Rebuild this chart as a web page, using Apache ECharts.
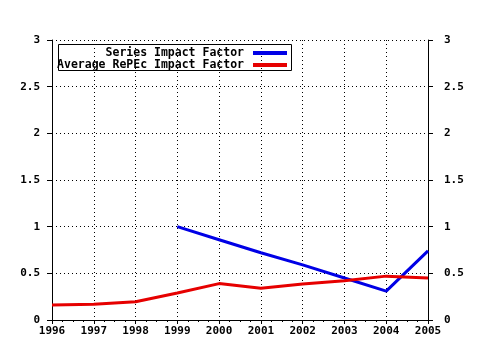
<!DOCTYPE html>
<html>
<head>
<meta charset="utf-8">
<script src="https://cdn.jsdelivr.net/npm/echarts@6/dist/echarts.min.js"></script>
<style>
  html, body { margin: 0; padding: 0; background: #fff; }
  #chart { width: 480px; height: 350px; }
</style>
</head>
<body>
<div id="chart"></div>
<script>
// values
var years = [1996, 1997, 1998, 1999, 2000, 2001, 2002, 2003, 2004, 2005]
var seriesImpact = [null, null, null, 1.0, 0.86, 0.72, 0.59, 0.45, 0.31, 0.74]
var repecImpact = [0.16, 0.17, 0.195, 0.29, 0.39, 0.34, 0.385, 0.42, 0.47, 0.45]
var seriesNames = ['Series Impact Factor', 'Average RePEc Impact Factor']

var font = 'DejaVu Sans Mono'

function pairs(vals) {
  var out = []
  for (var i = 0; i < years.length; i++) {
    if (vals[i] !== null) out.push([years[i], vals[i]])
  }
  return out
}

var chart = echarts.init(document.getElementById('chart'))

var axisText = { color: '#000', fontFamily: font, fontWeight: 'bold', fontSize: 11 }
var legendText = { color: '#000', fontFamily: font, fontWeight: 'bold', fontSize: 11.5, padding: [0, 4, 0, 0] }
var gridLine = { show: true, lineStyle: { color: '#000', type: [1, 3], width: 1 } }
var blackLine = { show: true, lineStyle: { color: '#000', width: 1 } }

function legendFor(name, top) {
  return {
    data: [name],
    right: 193,
    top: top,
    padding: 0,
    align: 'right',
    itemWidth: 34,
    itemHeight: 4,
    icon: 'rect',
    selectedMode: false,
    textStyle: legendText
  }
}

chart.setOption({
  animation: false,
  backgroundColor: '#fff',
  grid: { left: 52, right: 52, top: 40, bottom: 30 },
  xAxis: [
    {
      type: 'value',
      min: 1996,
      max: 2005,
      interval: 1,
      position: 'bottom',
      axisLine: blackLine,
      axisTick: { show: true, length: 4, lineStyle: { color: '#000' } },
      minorTick: { show: true, splitNumber: 4, length: 2, lineStyle: { color: '#000' } },
      splitLine: gridLine,
      axisLabel: Object.assign({ margin: 6, formatter: function (v) { return String(v) } }, axisText)
    },
    {
      type: 'value',
      min: 1996,
      max: 2005,
      interval: 1,
      position: 'top',
      axisLine: blackLine,
      axisTick: { show: true, inside: true, length: 3, lineStyle: { color: '#000' } },
      minorTick: { show: true, splitNumber: 4, length: 2, lineStyle: { color: '#000' } },
      splitLine: { show: false },
      axisLabel: { show: false }
    }
  ],
  yAxis: [
    {
      type: 'value',
      min: 0,
      max: 3,
      interval: 0.5,
      position: 'left',
      axisLine: blackLine,
      axisTick: { show: true, length: 5, lineStyle: { color: '#000' } },
      splitLine: gridLine,
      axisLabel: Object.assign({ margin: 12 }, axisText)
    },
    {
      type: 'value',
      min: 0,
      max: 3,
      interval: 0.5,
      position: 'right',
      axisLine: blackLine,
      axisTick: { show: true, length: 5, lineStyle: { color: '#000' } },
      splitLine: { show: false },
      axisLabel: Object.assign({ margin: 16 }, axisText)
    }
  ],
  legend: [
    legendFor(seriesNames[0], 47),
    legendFor(seriesNames[1], 59)
  ],
  graphic: [
    {
      type: 'rect',
      shape: { x: 58.5, y: 44.5, width: 233, height: 26 },
      style: { fill: 'none', stroke: '#000', lineWidth: 1 },
      z: 10
    }
  ],
  series: [
    {
      name: seriesNames[0],
      type: 'line',
      data: pairs(seriesImpact),
      color: '#0000e6',
      symbol: 'none',
      lineStyle: { width: 3, color: '#0000e6' },
      z: 3
    },
    {
      name: seriesNames[1],
      type: 'line',
      data: pairs(repecImpact),
      color: '#e60000',
      symbol: 'none',
      lineStyle: { width: 3, color: '#e60000' },
      z: 4
    }
  ]
})
</script>
</body>
</html>
